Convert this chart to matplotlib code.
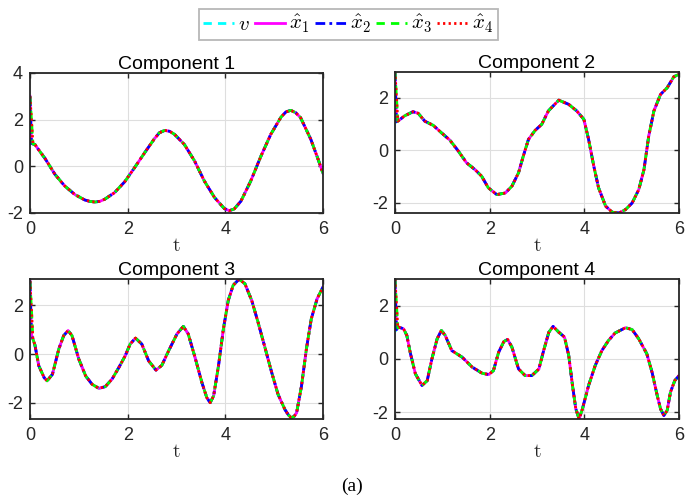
import matplotlib
matplotlib.use("Agg")
import matplotlib.pyplot as plt

# ---------------- data ----------------
t1 = [0.0, 0.03, 0.06, 0.10, 0.17, 0.31, 0.51, 0.71, 0.92, 1.12, 1.22, 1.33, 1.43, 1.53, 1.73, 1.94, 2.14,
      2.35, 2.55, 2.65, 2.76, 2.86, 2.96, 3.16, 3.37, 3.57, 3.78, 3.98, 4.08, 4.18, 4.32, 4.52, 4.73, 4.93,
      5.14, 5.24, 5.34, 5.44, 5.54, 5.75, 5.90, 6.0]
v1 = [1.00, 0.98, 0.96, 0.94, 0.73, 0.33, -0.34, -0.84, -1.21, -1.44, -1.50, -1.53, -1.50, -1.41, -1.13, -0.66, -0.06,
      0.59, 1.19, 1.44, 1.54, 1.50, 1.37, 0.94, 0.23, -0.63, -1.34, -1.81, -1.90, -1.83, -1.49, -0.63, 0.44, 1.37,
      2.11, 2.33, 2.40, 2.30, 2.09, 1.16, 0.30, -0.30]

t2 = [0.0, 0.03, 0.06, 0.20, 0.38, 0.49, 0.63, 0.81, 0.98, 1.16, 1.34, 1.51, 1.69, 1.83, 1.97,
      2.15, 2.33, 2.47, 2.61, 2.71, 2.82, 2.96, 3.10, 3.24, 3.46, 3.67, 3.84, 3.99, 4.09, 4.20,
      4.30, 4.45, 4.59, 4.73, 4.87, 5.01, 5.15, 5.26, 5.36, 5.47, 5.61, 5.75, 5.89, 6.0]
v2 = [1.04, 1.08, 1.10, 1.30, 1.46, 1.40, 1.10, 0.94, 0.66, 0.38, -0.04, -0.48, -0.74, -0.99, -1.43,
      -1.69, -1.63, -1.37, -0.86, -0.23, 0.41, 0.75, 0.98, 1.49, 1.90, 1.74, 1.49, 1.17, 0.41, -0.61,
      -1.43, -2.13, -2.36, -2.39, -2.26, -2.01, -1.50, -0.74, 0.53, 1.49, 2.12, 2.37, 2.79, 2.88]

t3 = [0.0, 0.03, 0.06, 0.10, 0.18, 0.29, 0.35, 0.46, 0.59, 0.69, 0.78, 0.86, 1.00, 1.14, 1.27,
      1.41, 1.54, 1.68, 1.82, 1.95, 2.05, 2.16, 2.29, 2.43, 2.58, 2.70, 2.84, 3.01, 3.14, 3.24,
      3.38, 3.52, 3.62, 3.69, 3.76, 3.86, 3.96, 4.06, 4.16, 4.28, 4.40, 4.54, 4.67, 4.81, 4.95,
      5.08, 5.22, 5.29, 5.35, 5.41, 5.46, 5.56, 5.66, 5.76, 5.88, 6.0]
v3 = [1.00, 0.80, 0.62, 0.38, -0.48, -0.97, -1.10, -0.83, 0.21, 0.76, 0.97, 0.76, -0.21, -0.90, -1.24,
      -1.41, -1.34, -1.03, -0.55, -0.07, 0.41, 0.66, 0.41, -0.28, -0.66, -0.46, 0.14, 0.83, 1.14, 0.83,
      -0.14, -1.17, -1.79, -2.00, -1.72, -0.48, 1.03, 2.21, 2.83, 3.08, 2.90, 2.21, 1.31, 0.28, -0.76,
      -1.66, -2.28, -2.50, -2.62, -2.56, -2.41, -1.31, 0.21, 1.45, 2.28, 2.76]

t4 = [0.0, 0.03, 0.06, 0.08, 0.18, 0.25, 0.32, 0.43, 0.57, 0.68, 0.78, 0.89, 0.98, 1.06, 1.20,
      1.42, 1.63, 1.84, 1.98, 2.08, 2.19, 2.30, 2.38, 2.47, 2.61, 2.75, 2.89, 3.04, 3.14, 3.25,
      3.34, 3.46, 3.58, 3.67, 3.75, 3.82, 3.89, 3.96, 4.09, 4.23, 4.37, 4.51, 4.65, 4.87, 5.01,
      5.15, 5.32, 5.43, 5.54, 5.61, 5.68, 5.75, 5.82, 5.91, 6.0]
v4 = [1.03, 1.10, 1.16, 1.19, 1.13, 0.88, 0.25, -0.56, -1.00, -0.82, 0.00, 0.75, 1.07, 0.88, 0.31,
      0.06, -0.31, -0.54, -0.59, -0.44, 0.25, 0.65, 0.73, 0.44, -0.38, -0.63, -0.63, -0.38, 0.31, 1.00,
      1.22, 1.00, 0.82, 0.13, -1.00, -1.88, -2.26, -1.88, -1.00, -0.25, 0.31, 0.69, 0.97, 1.17, 1.10,
      0.75, 0.19, -0.50, -1.38, -1.88, -2.13, -1.94, -1.25, -0.82, -0.63]

# initial value of every estimate and the time at which it joins v
xhat_init = [3.0, 3.0, 3.0, 3.0]
xhat_join = [0.03, 0.03, 0.06, 0.06]

titles = ["Component 1", "Component 2", "Component 3", "Component 4"]
ylims = [(-2.0, 4.0), (-2.39, 2.97), (-2.65, 3.09), (-2.26, 3.0)]
yticks = [[-2, 0, 2, 4], [-2, 0, 2], [-2, 0, 2], [-2, 0, 2]]
xticks = [0, 2, 4, 6]
legend_labels = [r"$v$", r"$\hat{x}_1$", r"$\hat{x}_2$", r"$\hat{x}_3$", r"$\hat{x}_4$"]

# ---------------- plotting ----------------
plt.rcParams["font.family"] = ["Liberation Sans", "DejaVu Sans"]
plt.rcParams["mathtext.fontset"] = "cm"
plt.rcParams["axes.unicode_minus"] = False

fig = plt.figure(figsize=(6.85, 5.0), dpi=100)
W, H = 685.0, 500.0
boxes = [(30, 73, 323, 213), (395, 72, 679, 213), (30, 279, 323, 418.5), (395, 279, 679, 419)]

times = [t1, t2, t3, t4]
vals = [v1, v2, v3, v4]

LW = 2.0
styles = [
    dict(color=(0.0, 1.0, 1.0), ls=(0, (3.0, 2.2)), lw=LW),   # v
    dict(color=(1.0, 0.0, 1.0), ls="-", lw=LW),              # x1
    dict(color=(0.0, 0.0, 1.0), ls=(0, (3.5, 1.5, 1.0, 1.5)), lw=LW),  # x2
    dict(color=(0.0, 1.0, 0.0), ls=(0, (3.0, 2.2)), lw=LW),   # x3
    dict(color=(1.0, 0.0, 0.0), ls=(0, (0.8, 1.2)), lw=LW),   # x4
]

frame_col = (0.15, 0.15, 0.15)
handles = []
for k in range(4):
    l, tpx, r, b = boxes[k]
    ax = fig.add_axes([l / W, 1 - b / H, (r - l) / W, (b - tpx) / H])
    tt, vv = times[k], vals[k]
    hs = []
    hs.append(ax.plot(tt, vv, **styles[0])[0])
    for i in range(4):
        ts = [0.0] + [a for a in tt if a >= xhat_join[i]]
        ys = [xhat_init[i]] + [vv[j] for j, a in enumerate(tt) if a >= xhat_join[i]]
        hs.append(ax.plot(ts, ys, **styles[i + 1])[0])
    if k == 0:
        handles = hs
    ax.set_xlim(0, 6)
    ax.set_ylim(*ylims[k])
    ax.set_xticks(xticks)
    ax.set_yticks(yticks[k])
    ax.grid(True, color=(0.87, 0.87, 0.87), lw=0.8)
    ax.set_axisbelow(True)
    ax.tick_params(direction="in", top=True, right=True, length=3.5, width=1.0,
                   labelsize=13, colors=frame_col, pad=5)
    ax.tick_params(axis="x", pad=6)
    for s in ax.spines.values():
        s.set_color(frame_col)
        s.set_linewidth(1.3)
    ax.set_title(titles[k], fontsize=14, color="black", pad=3)
    ax.set_xlabel(r"$\mathrm{t}$", fontsize=14, labelpad=0, color=frame_col)

leg = fig.legend(handles, legend_labels, loc="upper center", ncol=5,
                 bbox_to_anchor=(348.5 / W, 1 - 9 / H), fontsize=15,
                 frameon=True, fancybox=False, handlelength=1.45, handletextpad=0.2,
                 columnspacing=0.25, borderpad=0.2, borderaxespad=0)
leg.get_frame().set_edgecolor((0.65, 0.65, 0.65))
leg.get_frame().set_linewidth(1.3)

fig.text(352 / W, 1 - 486 / H, "(a)", ha="center", va="center", fontsize=14,
         family=["Liberation Serif", "DejaVu Serif"])

fig.savefig("out.png", dpi=100)
